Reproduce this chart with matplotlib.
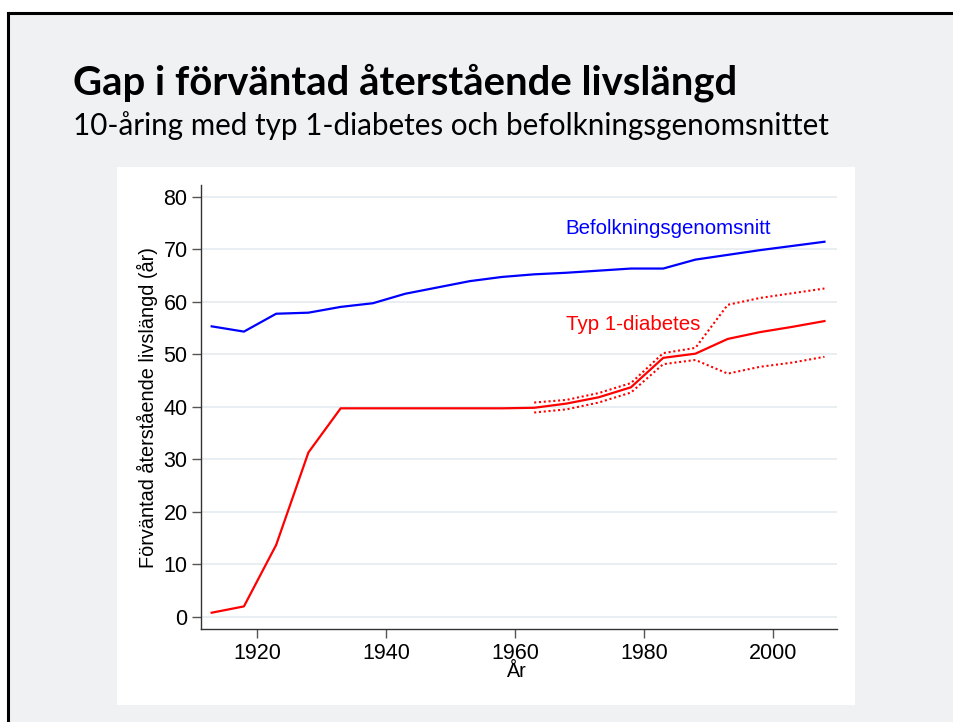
import numpy as np
import matplotlib.pyplot as plt
from matplotlib.patches import Rectangle
from matplotlib.lines import Line2D

years = np.arange(1913, 2009, 5)

befolkning = [55.3, 54.3, 57.7, 57.9, 59.0, 59.7, 61.5, 62.7, 63.9, 64.7,
              65.2, 65.5, 65.9, 66.3, 66.3, 68.0, 68.9, 69.8, 70.6, 71.4]

typ1 = [0.8, 2.0, 13.7, 31.3, 39.7, 39.7, 39.7, 39.7, 39.7, 39.7,
        39.8, 40.6, 41.8, 43.7, 49.3, 50.1, 52.9, 54.2, 55.2, 56.3]

ci_years = np.arange(1963, 2009, 5)
typ1_upper = [40.8, 41.3, 42.6, 44.5, 50.2, 51.2, 59.4, 60.7, 61.6, 62.5]
typ1_lower = [38.9, 39.5, 40.8, 42.7, 48.1, 48.9, 46.3, 47.6, 48.4, 49.5]

yticks = [0, 10, 20, 30, 40, 50, 60, 70, 80]
xticks = [1920, 1940, 1960, 1980, 2000]

W, H = 954, 722
fig = plt.figure(figsize=(W / 100, H / 100), dpi=100)
fig.patch.set_facecolor('white')

# slide background, black frame only on top and left
fig.patches.append(Rectangle((8 / W, 0), 1, (H - 12.5) / H,
                             transform=fig.transFigure, facecolor='#f0f1f3',
                             edgecolor='none', zorder=-3))
fig.add_artist(Line2D([8 / W, 1], [(H - 12.5) / H] * 2, color='black', lw=2.2,
                      transform=fig.transFigure, zorder=-2))
fig.add_artist(Line2D([8 / W] * 2, [0, (H - 12.5) / H], color='black', lw=2.2,
                      transform=fig.transFigure, zorder=-2))
# white plot panel
fig.patches.append(Rectangle((117 / W, (H - 705) / H), 738 / W, 538 / H,
                             transform=fig.transFigure, facecolor='white',
                             edgecolor='none', zorder=-1))

fig.text(73 / W, (H - 95) / H, 'Gap i förväntad återstående livslängd',
         family='Lato', weight='bold', fontsize=28.8, color='black', va='baseline')
fig.text(73 / W, (H - 135) / H, '10-åring med typ 1-diabetes och befolkningsgenomsnittet',
         family='Lato', fontsize=21.3, color='black', va='baseline')

ax = fig.add_axes([200.7 / W, (H - 629) / H, 636 / W, 444 / H])
ax.set_facecolor('none')

ax.plot(years, befolkning, color='#0000ff', lw=1.6)
ax.plot(years, typ1, color='#ff0000', lw=1.6)
ax.plot(ci_years, typ1_upper, color='#ff0000', lw=1.5, linestyle=(0, (1, 1.3)))
ax.plot(ci_years, typ1_lower, color='#ff0000', lw=1.5, linestyle=(0, (1, 1.3)))

ax.text(1983.7, 74.0, 'Befolkningsgenomsnitt', color='#0000ff', fontsize=14.8,
        family='Liberation Sans', ha='center', va='center')
ax.text(1978.3, 55.6, 'Typ 1-diabetes', color='#ff0000', fontsize=14.8,
        family='Liberation Sans', ha='center', va='center')

ax.set_xlim(1911.3, 2009.9)
ax.set_ylim(-2.3, 82.2)
ax.set_yticks(yticks)
ax.set_xticks(xticks)
ax.grid(axis='y', color='#e6edf1', lw=1.3)
ax.set_axisbelow(True)

for s in ['top', 'right']:
    ax.spines[s].set_visible(False)
for s in ['left', 'bottom']:
    ax.spines[s].set_color('#333333')
    ax.spines[s].set_linewidth(1.0)

ax.tick_params(axis='y', length=6.5, width=1, color='#555555', pad=3,
               labelsize=15.5)
ax.tick_params(axis='x', length=6.5, width=1, color='#555555', pad=3.5,
               labelsize=15.5)
for lab in ax.get_xticklabels() + ax.get_yticklabels():
    lab.set_family('Liberation Sans')

ax.set_ylabel('Förväntad återstående livslängd (år)', family='Liberation Sans',
              fontsize=14.3, labelpad=4)
fig.text(516 / W, (H - 662) / H, 'År', family='Liberation Sans', fontsize=14.3,
         ha='center', va='top')

fig.savefig('out.png', dpi=100)
